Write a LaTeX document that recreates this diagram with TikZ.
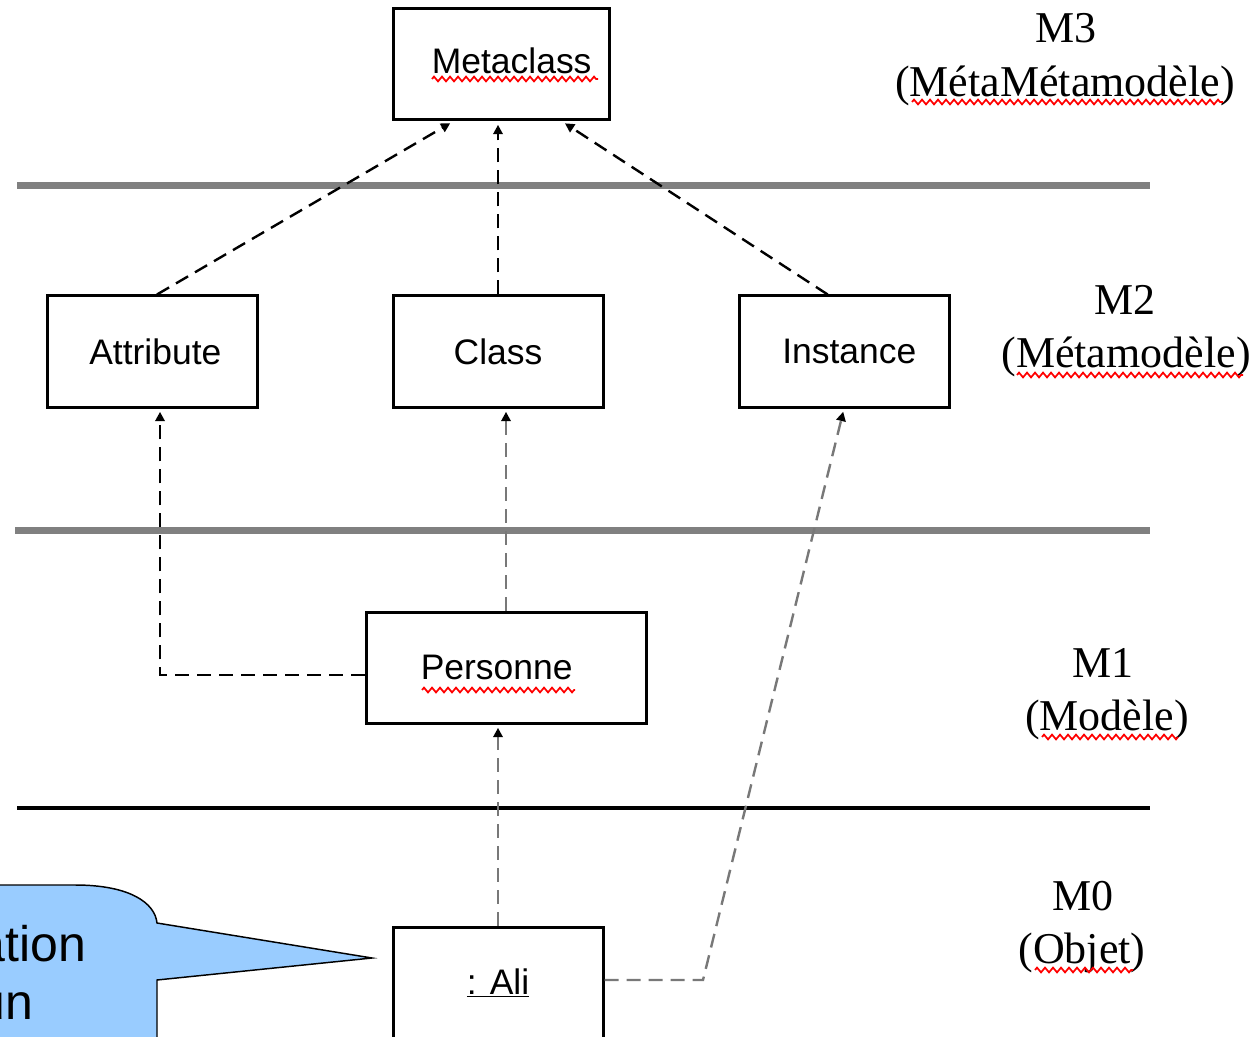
\documentclass[tikz,border=0pt]{standalone}
\usepackage{fontspec}
\setmainfont{Liberation Serif}
\setsansfont{Liberation Sans}
\usetikzlibrary{arrows.meta,decorations.pathmorphing}

\definecolor{calloutblue}{RGB}{153,204,255}
\definecolor{layergray}{RGB}{128,128,128}
\definecolor{linkgray}{RGB}{120,120,120}

\tikzset{every picture/.style={line width=0.75pt}}
\tikzset{
  umlbox/.style={draw, line width=2.25pt, minimum width=157.5pt, minimum height=83.25pt, inner sep=0pt, font=\sffamily\fontsize{26.6pt}{30pt}\selectfont},
  layertxt/.style={anchor=base, inner sep=0pt, font=\fontsize{33pt}{38pt}\selectfont},
  callouttxt/.style={anchor=base west, inner sep=0pt, font=\sffamily\fontsize{37.5pt}{44pt}\selectfont},
  depend/.style={line width=1.8pt, dash pattern=on 10.5pt off 6pt, -{Triangle[length=7pt,width=7pt,color=black]}, shorten >=2.5pt},
  separator/.style={layergray, line width=5.25pt},
  squiggle/.style={red, line width=1.3pt, decorate, decoration={zigzag, segment length=6pt, amplitude=1.8pt}}
}

\begin{document}
\begin{tikzpicture}[x=0.75pt,y=0.75pt,yscale=-1,xscale=1]
	%set diagram size to 1252 x 1037
	\useasboundingbox (0,0) rectangle (1252,1037);
	\clip (0,0) rectangle (1252,1037);

	%Shape: Callout
	\draw [fill=calloutblue, line width=1.1pt] (-10,885) -- (75,885) .. controls (130,885) and (155,903) .. (157,923) -- (372,958) -- (157,980) -- (157,1050) -- (-10,1050) -- cycle ;
	% Text Node
	\node [callouttxt] (callout1) at (-23,961) {ation};
	\node [callouttxt] (callout2) at (-23,1019) {un};

	%Shape: Layer lines
	\draw [separator] (17,186) -- (1150,186) ;
	\draw [separator] (15,530) -- (1150,530) ;
	\draw [line width=3pt] (17,808) -- (1150,808) ;

	%Shape: Boxes
	\node [umlbox, minimum width=162pt] (metaclass) at (501,64.5) {\hspace*{16pt}Metaclass\vphantom{g}};
	\node [umlbox] (attribute) at (152,351.5) {\hspace*{5pt}Attribute};
	\node [umlbox] (class) at (498,351.5) {Class};
	\node [umlbox] (instance) at (844,351.5) {\hspace*{8pt}Instance};
	\node [umlbox, minimum width=210pt] (personne) at (506,667.5) {Personne\hspace*{14pt}};
	\node [umlbox] (ali) at (498,982.5) {\underline{: Ali}};

	% Text Node
	\node [layertxt] (m3) at (1066,43) {M3};
	\node [layertxt] (m3name) at (1065,97) {(MétaMétamodèle)};
	\node [layertxt] (m2) at (1125,315) {M2};
	\node [layertxt] (m2name) at (1126,368) {(Métamodèle)};
	\node [layertxt] (m1) at (1103,677) {M1};
	\node [layertxt] (m1name) at (1107,730) {(Modèle)};
	\node [layertxt] (m0) at (1083,910) {M0};
	\node [layertxt] (m0name) at (1082,963) {(Objet)};

	%Shape: Spelling marks
	\draw [squiggle] (432,79) -- (598,79) ;
	\draw [squiggle] (912,102) -- (1223,102) ;
	\draw [squiggle] (1017,375) -- (1243,375) ;
	\draw [squiggle] (422,690) -- (575,690) ;
	\draw [squiggle] (1042,737) -- (1178,737) ;
	\draw [squiggle] (1035,970) -- (1133,970) ;

	%Shape: Dependencies
	\draw [depend] (attribute.85) -- (metaclass.230) ;
	\draw [depend] (class.north) -- (class.north |- metaclass.south) ;
	\draw [depend] (instance.106) -- (metaclass.317) ;
	\draw [depend] (personne.183.5) -| (attribute.278) ;
	\draw [depend, linkgray] (personne.north) -- (personne.north |- class.south) ;
	\draw [depend, linkgray] (ali.north) -- (ali.north |- personne.south) ;
	\coordinate (bend) at (703,980) ;
	\draw [depend, linkgray] (ali.east |- bend) -- (bend) -- (instance.south) ;

\end{tikzpicture}
\end{document}
